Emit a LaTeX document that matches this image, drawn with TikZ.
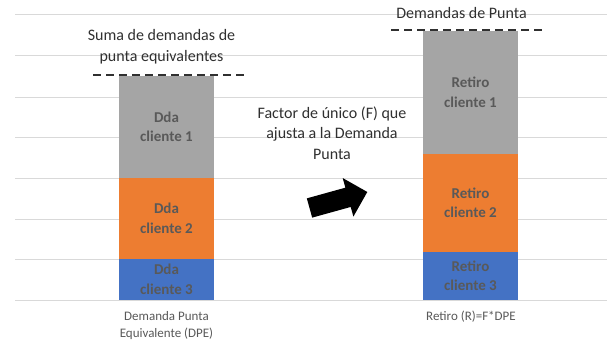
\documentclass[tikz,border=0pt]{standalone}
\usepackage{fontspec}
\setmainfont{Carlito}
\definecolor{cgray}{HTML}{A5A5A5}
\definecolor{corange}{HTML}{ED7D31}
\definecolor{cblue}{HTML}{4472C4}
\definecolor{gridc}{HTML}{D9D9D9}
\definecolor{btext}{HTML}{595959}
\definecolor{ttext}{HTML}{303030}
\begin{document}
\begin{tikzpicture}[x=1pt,y=-1pt,
 seg/.style={minimum width=95pt, inner sep=0pt, outer sep=0pt, draw=none,
   font=\fontsize{15}{19.5}\selectfont\bfseries, text=btext, align=center},
 gridline/.style={draw=gridc, line width=1pt},
 peak/.style={draw=ttext, line width=2pt, dash pattern=on 8pt off 5pt},
 lbl/.style={font=\fontsize{16}{20.5}\selectfont, text=ttext, align=center, inner sep=0pt},
 axl/.style={font=\fontsize{13}{17}\selectfont, text=btext, align=center, inner sep=0pt},
 blockarrow/.style={fill=black}]
\useasboundingbox (0,0) rectangle (610,345);
\fill[white] (0,0) rectangle (610,345);
\foreach \y in {15,56,97,137,178,219,259,300} \draw[gridline] (15,\y) -- (607,\y);
% left bar
\node[seg, fill=cgray, minimum height=102pt] (l1) at (166.5,127) {Dda\\cliente 1};
\node[seg, fill=corange, minimum height=81pt] (l2) at (166.5,218.5) {Dda\\cliente 2};
\node[seg, fill=cblue, minimum height=41pt] (l3) at (166.5,279.5) {Dda\\cliente 3};
% right bar
\node[seg, fill=cgray, minimum height=123pt] (r1) at (470.5,92.5) {Retiro\\cliente 1};
\node[seg, fill=corange, minimum height=98pt] (r2) at (470.5,203) {Retiro\\cliente 2};
\node[seg, fill=cblue, minimum height=48pt] (r3) at (470.5,276) {Retiro\\cliente 3};
% dashed peak lines
\coordinate (ls) at (93,75);
\coordinate (le) at (247,75);
\coordinate (rs) at (391,30);
\coordinate (re) at (545,30);
\draw[peak] (ls) -- (le);
\draw[peak] (rs) -- (re);
% labels
\node[lbl] (tl) at (161.5,46.5) {Suma de demandas de\\punta equivalentes};
\node[lbl] (tr) at (461.5,13) {Demandas de Punta};
\node[lbl] (mid) at (332,133) {Factor de único (F) que\\ajusta a la Demanda\\Punta};
\node[axl] (bl) at (166.5,325.5) {Demanda Punta\\Equivalente (DPE)};
\node[axl] (br) at (471,317) {Retiro (R)=F*DPE};
% block arrow
\begin{scope}[shift={(309.5,208)}, rotate=15.5]
\fill[blockarrow] (0,-10) -- (40,-10) -- (40,-20) -- (60,0) -- (40,20) -- (40,10) -- (0,10) -- cycle;
\end{scope}
\end{tikzpicture}
\end{document}
